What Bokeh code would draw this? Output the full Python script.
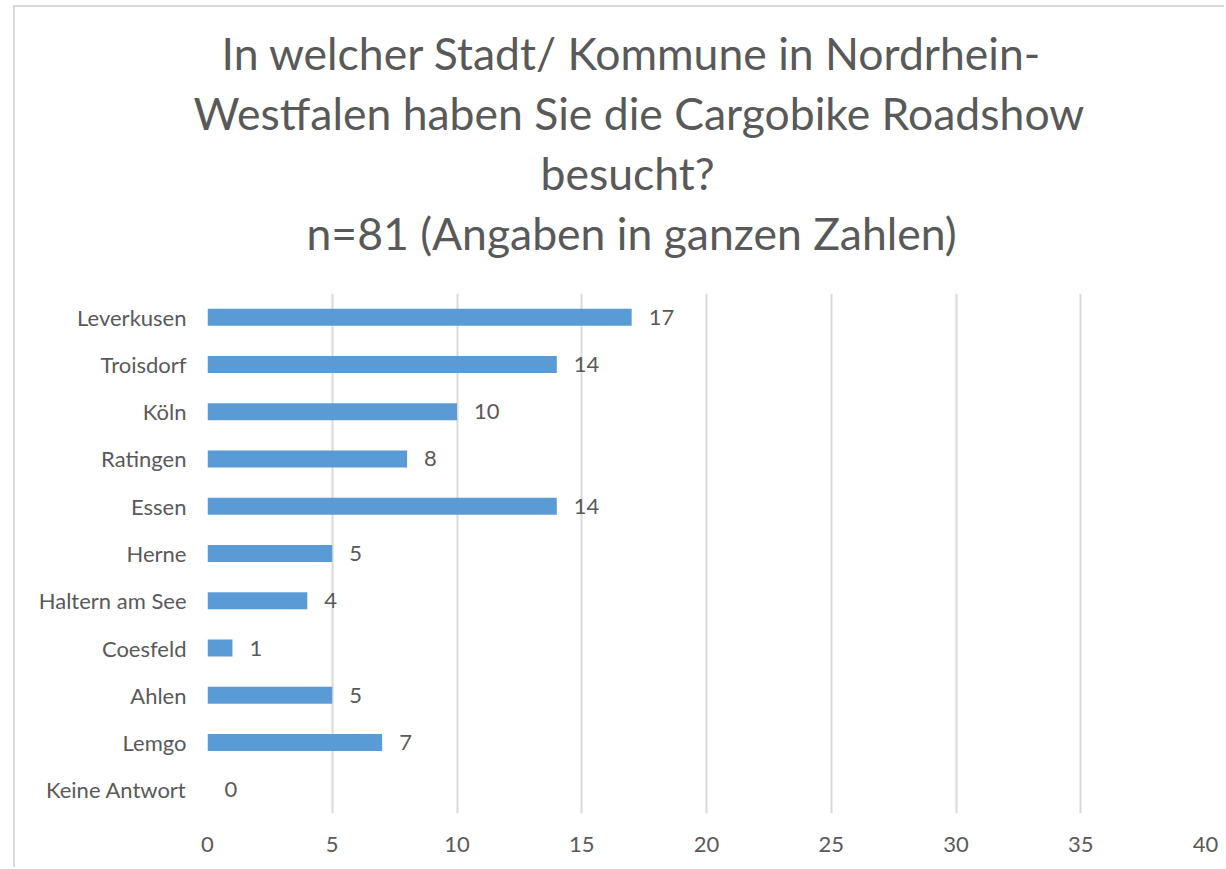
from bokeh.plotting import figure
from bokeh.models import ColumnDataSource, Range1d, FactorRange, FixedTicker, LabelSet, Title
from bokeh.core.properties import value
from bokeh.embed import file_html
from bokeh.resources import INLINE

cities = ["Leverkusen", "Troisdorf", "Köln", "Ratingen", "Essen", "Herne",
          "Haltern am See", "Coesfeld", "Ahlen", "Lemgo", "Keine Antwort"]
counts = [17, 14, 10, 8, 14, 5, 4, 1, 5, 7, 0]
x_ticks = [0, 5, 10, 15, 20, 25, 30, 35, 40]
title_lines = ["In welcher Stadt/ Kommune in Nordrhein-",
               "Westfalen haben Sie die Cargobike Roadshow",
               "besucht?",
               "n=81 (Angaben in ganzen Zahlen)"]

FONT = "Lato"
GRAY = "#595959"

W, H = 1211, 862
p = figure(width=W, height=H, output_backend="svg", toolbar_location=None, title=None,
           y_range=FactorRange(factors=list(reversed(cities)), range_padding=0),
           x_range=Range1d(0, 40),
           min_border_left=192, min_border_right=21, min_border_top=286, min_border_bottom=56)
p.outline_line_color = None
p.background_fill_color = "white"
p.border_fill_color = "white"
p.styles = {"border-left": "2px solid #D9D9D9", "border-top": "2px solid #D9D9D9",
            "margin-left": "13px", "margin-top": "5px"}

# spacer between plot area and title block
p.add_layout(Title(text=" ", text_font_size="1px", standoff=29), "above")

# title: one Title per line, added from the line closest to the plot outward
title_offsets = [14, -14, 333, 99]
for txt, off in reversed(list(zip(title_lines, title_offsets))):
    p.add_layout(Title(text=txt, align="left", offset=off, standoff=5,
                       text_font=FONT, text_font_size="44.5px", text_font_style="normal",
                       text_color=GRAY), "above")

src = ColumnDataSource(dict(city=cities, count=counts, lab=[str(c) for c in counts]))
p.hbar(y="city", right="count", left=0, height=0.36, source=src,
       fill_color="#5B9BD5", line_color=None)

labels = LabelSet(x="count", y="city", text="lab", source=src, x_offset=17,
                  text_baseline="middle", text_align="left", text_font_size="22px",
                  text_color=GRAY, text_font=value(FONT))
p.add_layout(labels)

p.xaxis.ticker = FixedTicker(ticks=x_ticks)
p.xaxis.axis_line_color = None
p.xaxis.major_tick_line_color = None
p.xaxis.minor_tick_line_color = None
p.xaxis.major_label_standoff = 17
p.xaxis.major_label_text_font_size = "22px"
p.xaxis.major_label_text_color = GRAY
p.xaxis.major_label_text_font = FONT

p.yaxis.axis_line_color = None
p.yaxis.major_tick_line_color = None
p.yaxis.minor_tick_line_color = None
p.yaxis.major_label_standoff = 15
p.yaxis.major_label_text_font_size = "22px"
p.yaxis.major_label_text_color = GRAY
p.yaxis.major_label_text_font = FONT

p.ygrid.grid_line_color = None
p.xgrid.grid_line_color = "#D9D9D9"
p.xgrid.grid_line_width = 2

open("out.html", "w").write(file_html(p, INLINE))
